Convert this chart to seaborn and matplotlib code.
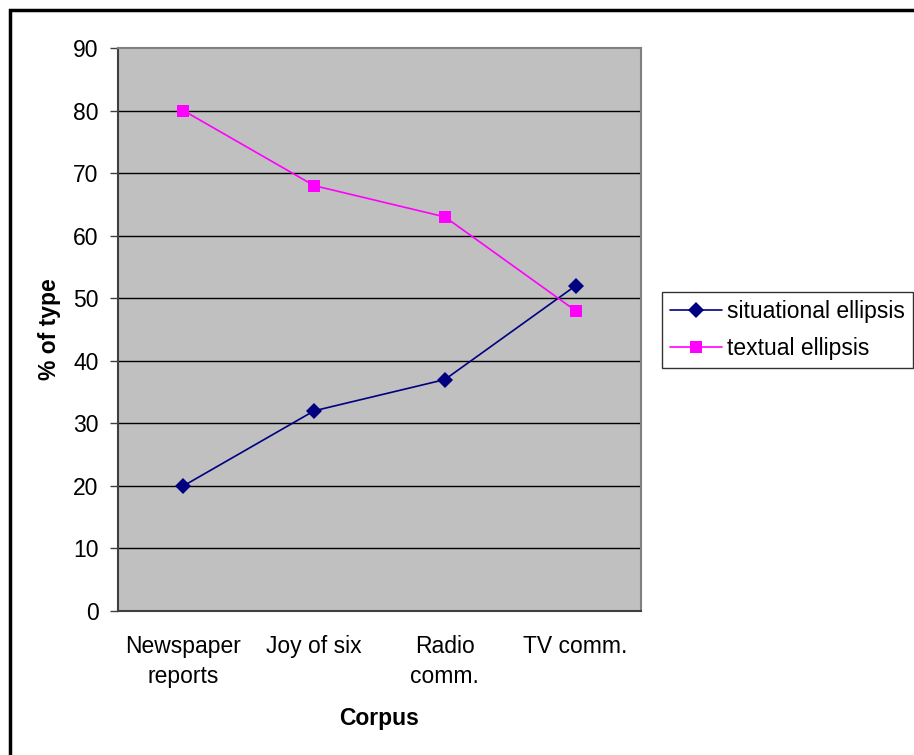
import matplotlib
matplotlib.use("Agg")
import matplotlib.pyplot as plt
import seaborn as sns
import pandas as pd
from matplotlib.patches import Rectangle

categories = ["Newspaper\nreports", "Joy of six", "Radio\ncomm.", "TV comm."]
situational = [20, 32, 37, 52]
textual = [80, 68, 63, 48]
y_ticks = [0, 10, 20, 30, 40, 50, 60, 70, 80, 90]

sns.set_theme(style="white")
plt.rcParams["font.family"] = ["Liberation Sans", "DejaVu Sans"]
plt.rcParams["text.color"] = "black"
plt.rcParams["xtick.color"] = "black"
plt.rcParams["ytick.color"] = "black"
plt.rcParams["axes.labelcolor"] = "black"

df = pd.DataFrame({
    "pos": list(range(len(categories))) * 2,
    "value": situational + textual,
    "series": ["situational ellipsis"] * len(categories) + ["textual ellipsis"] * len(categories),
})

fig = plt.figure(figsize=(9.14, 7.55), dpi=100)
ax = fig.add_axes([118 / 914, 1 - 611 / 755, (641 - 118) / 914, (611 - 48) / 755])
ax.set_facecolor("#C0C0C0")

for y in y_ticks[1:-1]:
    ax.axhline(y, color="black", lw=1, zorder=1)

sns.lineplot(data=df, x="pos", y="value", hue="series", style="series",
             palette={"situational ellipsis": "#000080", "textual ellipsis": "#FF00FF"},
             markers={"situational ellipsis": "D", "textual ellipsis": "s"},
             dashes=False, markersize=8, markeredgewidth=0, linewidth=1.2,
             ax=ax, zorder=3)

ax.set_xlim(-0.5, len(categories) - 0.5)
ax.set_ylim(0, 90)
ax.set_yticks(y_ticks)
ax.set_yticklabels([str(v) for v in y_ticks], fontsize=16.5)
ax.set_xticks([i - 0.5 for i in range(len(categories) + 1)])
ax.set_xticklabels([])
ax.set_xticks(range(len(categories)), minor=True)
ax.set_xticklabels(categories, minor=True, fontsize=16.5, linespacing=1.4)
ax.tick_params(axis="x", which="minor", length=0, pad=17)
ax.tick_params(axis="x", which="major", length=6, width=1, color="#404040", direction="out")
ax.tick_params(axis="y", length=6, width=1, color="#404040", direction="out", pad=8, left=True)

for side in ["top", "right"]:
    ax.spines[side].set_color("#808080")
    ax.spines[side].set_linewidth(1.5)
for side in ["left", "bottom"]:
    ax.spines[side].set_color("#404040")
    ax.spines[side].set_linewidth(1.5)

ax.set_xlabel("Corpus", fontsize=16.5, fontweight="bold", labelpad=14)
ax.set_ylabel("% of type", fontsize=16.5, fontweight="bold", labelpad=9)

leg = ax.legend(loc="upper left", bbox_to_anchor=(662 / 914, 1 - 292 / 755),
                bbox_transform=fig.transFigure, frameon=True, fancybox=False,
                fontsize=16.5, handlelength=2.25, handletextpad=0.25,
                borderpad=0.35, labelspacing=0.62, borderaxespad=0)
leg.get_frame().set_edgecolor("black")
leg.get_frame().set_linewidth(1)
leg.get_frame().set_facecolor("white")

fig.patches.append(Rectangle((10 / 914, -0.05), 1.0, 1 - 10 / 755 + 0.05,
                             transform=fig.transFigure, fill=False,
                             edgecolor="black", linewidth=2.5))

fig.savefig("out.png", dpi=100)
